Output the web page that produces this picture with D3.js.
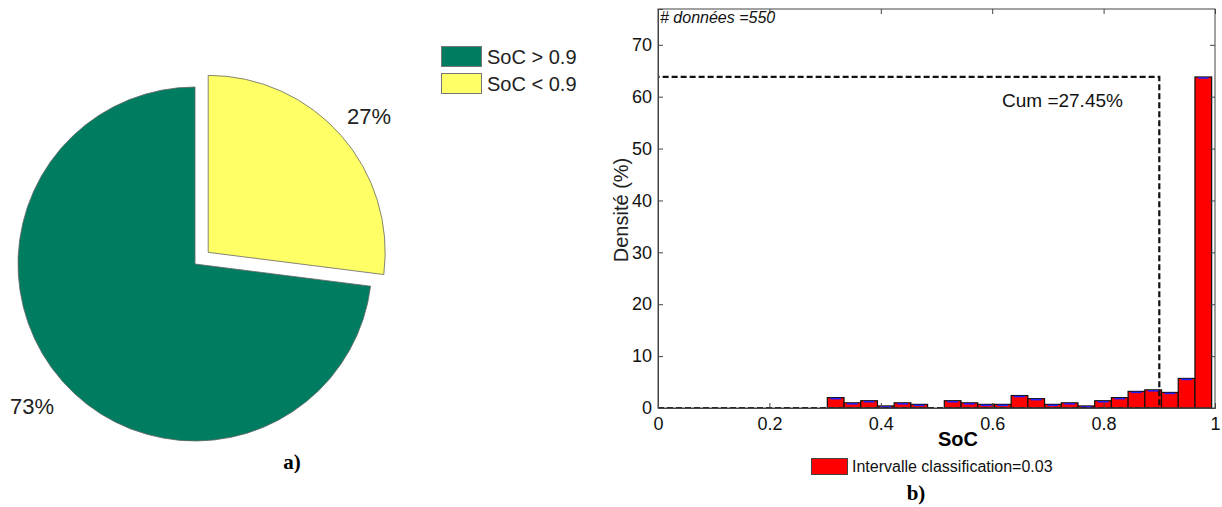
<!DOCTYPE html>
<html><head><meta charset="utf-8">
<script src="https://cdn.jsdelivr.net/npm/d3@7"></script>
<style>body{margin:0;background:#fff}svg{display:block}</style>
</head><body>
<svg id="c" width="1222" height="507"></svg>
<script>
// ---- data ----
const pieLabels = ["SoC > 0.9", "SoC < 0.9"];
const pieValues = [73, 27];
const pieColors = ["#007c61", "#ffff66"];
const binStart = 0.304;
const binWidth = 0.03;
const density = [2.0, 1.0, 1.4, 0.4, 1.0, 0.7, 0.0, 1.4, 1.0, 0.7, 0.7, 2.4, 1.8, 0.7, 1.0, 0.4, 1.4, 2.0, 3.2, 3.5, 3.0, 5.7, 63.8];
const xTicks = [0, 0.2, 0.4, 0.6, 0.8, 1];
const yTicks = [0, 10, 20, 30, 40, 50, 60, 70];
const cumThreshold = 0.9;
const cumHeight = 63.8;

const svg = d3.select("#c");
const font = "Liberation Sans, Arial, sans-serif";

// ---- pie (a) ----
const cx = 195, cy = 264, R = 177;
const pieData = [{v: pieValues[1], c: pieColors[1], explode: true},
                 {v: pieValues[0], c: pieColors[0], explode: false}];
const arcs = d3.pie().value(d => d.v).sort(null)(pieData);
const arcGen = d3.arc().innerRadius(0).outerRadius(R);
const gPie = svg.append("g").attr("transform", `translate(${cx},${cy})`);
arcs.forEach(a => {
  const mid = (a.startAngle + a.endAngle) / 2;
  const off = a.data.explode ? 17.6 : 0;
  const dx = off * Math.sin(mid), dy = -off * Math.cos(mid);
  gPie.append("path").attr("d", arcGen(a))
    .attr("transform", `translate(${dx},${dy})`)
    .attr("fill", a.data.c).attr("stroke", "#666").attr("stroke-width", 0.8);
});
svg.append("text").attr("x", 369).attr("y", 124).attr("text-anchor", "middle")
  .attr("font-family", font).attr("font-size", 22).attr("fill", "#222").text(pieValues[1] + "%");
svg.append("text").attr("x", 32).attr("y", 414).attr("text-anchor", "middle")
  .attr("font-family", font).attr("font-size", 22).attr("fill", "#222").text(pieValues[0] + "%");
// legend
pieLabels.forEach((l, i) => {
  svg.append("rect").attr("x", 441.5).attr("y", 46.5 + i * 27).attr("width", 40).attr("height", 20)
    .attr("fill", pieColors[i]).attr("stroke", "#777").attr("stroke-width", 1);
  svg.append("text").attr("x", 487).attr("y", 63.5 + i * 27).attr("font-family", font)
    .attr("font-size", 20).attr("fill", "#222").text(l);
});
svg.append("text").attr("x", 292).attr("y", 469).attr("text-anchor", "middle")
  .attr("font-family", "Liberation Serif, Times New Roman, serif").attr("font-weight", "bold")
  .attr("font-size", 21).text("a)");

// ---- histogram (b) ----
const L = 658, Rr = 1215, T = 9, B = 408;
const x = d3.scaleLinear().domain([0, 1]).range([L, Rr]);
const y = d3.scaleLinear().domain([0, 76.9]).range([B, T]);
const gH = svg.append("g");

density.forEach((d, i) => {
  const x0 = x(binStart + i * binWidth), x1 = x(binStart + (i + 1) * binWidth);
  if (d > 0) {
    gH.append("rect").attr("x", x0).attr("y", y(d)).attr("width", x1 - x0).attr("height", B - y(d))
      .attr("fill", "#ff0000").attr("stroke", "#111").attr("stroke-width", 1.2);
    gH.append("line").attr("x1", x0 + 3).attr("x2", x1 - 3).attr("y1", y(d) + 1).attr("y2", y(d) + 1)
      .attr("stroke", "#2020ff").attr("stroke-width", 1.5);
  }
});

gH.append("path")
  .attr("d", `M${x(0)},${y(0)}H${x(cumThreshold)}V${y(cumHeight)}H${x(0)}`)
  .attr("fill", "none").attr("stroke", "#111").attr("stroke-width", 2.2).attr("stroke-dasharray", "6,3");

gH.append("rect").attr("x", L).attr("y", T).attr("width", Rr - L).attr("height", B - T)
  .attr("fill", "none").attr("stroke", "#444").attr("stroke-width", 1);

const xAxis = d3.axisBottom(x).tickValues(xTicks).tickSize(-5).tickPadding(9)
  .tickFormat(d => d === 0 || d === 1 ? d3.format("d")(d) : d3.format(".1f")(d));
const gx = gH.append("g").attr("transform", `translate(0,${B})`).call(xAxis);
const yAxis = d3.axisLeft(y).tickValues(yTicks).tickSize(-5).tickPadding(6);
const gy = gH.append("g").attr("transform", `translate(${L},0)`).call(yAxis);
[gx, gy].forEach(g => {
  g.select(".domain").attr("stroke", "#444");
  g.selectAll(".tick line").attr("stroke", "#444");
  g.selectAll("text").attr("font-family", font).attr("font-size", 18).attr("fill", "#111");
});
gH.append("g").attr("transform", `translate(0,${T})`)
  .call(d3.axisTop(x).tickValues(xTicks).tickSize(-5).tickFormat(""))
  .call(g => { g.select(".domain").remove(); g.selectAll("line").attr("stroke", "#444"); });
gH.append("g").attr("transform", `translate(${Rr},0)`)
  .call(d3.axisRight(y).tickValues(yTicks).tickSize(-5).tickFormat(""))
  .call(g => { g.select(".domain").remove(); g.selectAll("line").attr("stroke", "#444"); });

svg.append("text").attr("x", 958).attr("y", 446).attr("text-anchor", "middle")
  .attr("font-family", font).attr("font-weight", "bold").attr("font-size", 20).text("SoC");
svg.append("text").attr("transform", "translate(628,210) rotate(-90)").attr("text-anchor", "middle")
  .attr("font-family", font).attr("font-size", 20).attr("fill", "#222").text("Densité (%)");
svg.append("text").attr("x", 660).attr("y", 23).attr("font-family", font).attr("font-style", "italic")
  .attr("font-size", 16).attr("fill", "#111").text("# données =550");
svg.append("text").attr("x", 1002).attr("y", 107).attr("font-family", font)
  .attr("font-size", 19).attr("fill", "#111").text("Cum =27.45%");

svg.append("rect").attr("x", 811.5).attr("y", 458.5).attr("width", 36).attr("height", 16)
  .attr("fill", "#ff0000").attr("stroke", "#444").attr("stroke-width", 1);
svg.append("text").attr("x", 852).attr("y", 472).attr("font-family", font)
  .attr("font-size", 16).attr("fill", "#111").text("Intervalle classification=0.03");
svg.append("text").attr("x", 916).attr("y", 500).attr("text-anchor", "middle")
  .attr("font-family", "Liberation Serif, Times New Roman, serif").attr("font-weight", "bold")
  .attr("font-size", 21).text("b)");
</script>
</body></html>
